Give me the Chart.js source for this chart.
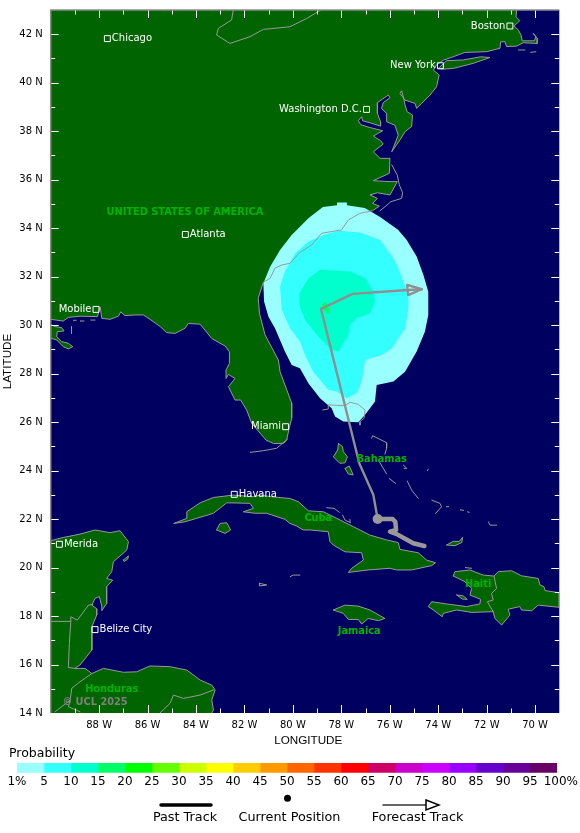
<!DOCTYPE html>
<html>
<head>
<meta charset="utf-8">
<title>Strike probability</title>
<script src="https://cdn.jsdelivr.net/npm/chart.js@4"></script>
<style>
  html, body { margin: 0; padding: 0; background: #fff; overflow: hidden; }
  #page { position: relative; width: 580px; height: 833px; font-family: "DejaVu Sans", sans-serif; color: #000; }
  canvas { position: absolute; left: 0; }
  .key { position: absolute; font-size: 12.8px; line-height: 14px; white-space: nowrap; }
  .centre { transform: translateX(-50%); }
</style>
</head>
<body>
<div id="page">
  <canvas id="mapChart" width="580" height="748" style="top:0"></canvas>
  <canvas id="barChart" width="580" height="32" style="top:760px"></canvas>
  <div class="key" style="left:9px;top:746px;font-size:12.5px">Probability</div>
  <svg width="580" height="30" style="position:absolute;left:0;top:790px">
    <line x1="161" y1="15" x2="211" y2="15" stroke="#000" stroke-width="3.5" stroke-linecap="round"/>
    <circle cx="287.5" cy="8.3" r="3.5" fill="#000"/>
    <line x1="382.5" y1="15" x2="426" y2="15" stroke="#333" stroke-width="1.5"/>
    <polygon points="426,10 439,15 426,20" fill="none" stroke="#000" stroke-width="1.5"/>
  </svg>
  <div class="key centre" style="left:185px;top:810px">Past Track</div>
  <div class="key centre" style="left:289.5px;top:810px">Current Position</div>
  <div class="key centre" style="left:417.5px;top:810px">Forecast Track</div>
</div>
<script>
// axes
const lonRange = [-90, -69];
const latRange = [14, 43];
const lonMajor = [-88, -86, -84, -82, -80, -78, -76, -74, -72, -70];
const lonMinor = [-89, -87, -85, -83, -81, -79, -77, -75, -73, -71];
const latMajor = [14, 16, 18, 20, 22, 24, 26, 28, 30, 32, 34, 36, 38, 40, 42];
const latMinor = [15, 17, 19, 21, 23, 25, 27, 29, 31, 33, 35, 37, 39, 41];

// probability key
const probLabels = ['1%', '5', '10', '15', '20', '25', '30', '35', '40', '45', '50', '55', '60', '65', '70', '75', '80', '85', '90', '95', '100%'];
const probColors = ['#99ffff', '#33ffff', '#00ffcc', '#00ff66', '#00ff00', '#66ff00', '#ccff00', '#ffff00', '#ffcc00', '#ff9900',
  '#ff6600', '#ff3300', '#ff0000', '#cc0066', '#cc00cc', '#cc00ff', '#9900ff', '#6600cc', '#660099', '#660066'];

// probability areas, lon/lat
const prob1 = [[-78.76,34.87],[-78.18,34.95],[-78.18,35.06],[-77.77,35.06],[-77.77,34.95],[-77.03,34.83],[-76.40,34.46],[-75.66,33.93],[-75.30,33.51],[-74.89,32.83],[-74.61,32.07],[-74.41,31.38],[-74.41,30.42],[-74.55,29.73],[-74.89,28.91],[-75.37,28.08],[-75.85,27.67],[-76.54,27.53],[-76.61,26.85],[-77.02,26.30],[-77.30,25.99],[-77.92,26.02],[-78.26,26.23],[-78.40,26.57],[-78.88,26.98],[-79.36,27.60],[-79.71,28.22],[-80.05,28.36],[-80.33,28.91],[-80.74,29.87],[-81.01,30.35],[-81.19,30.97],[-81.22,31.73],[-80.94,32.41],[-80.53,33.10],[-80.05,33.72],[-79.36,34.41]];
const prob5 = [[-78.12,33.89],[-77.23,33.82],[-76.40,33.51],[-75.85,32.76],[-75.65,32.35],[-75.23,31.25],[-75.23,30.70],[-75.37,29.87],[-75.92,29.04],[-76.33,28.77],[-77.02,28.56],[-77.16,27.67],[-77.37,27.19],[-77.78,26.98],[-78.19,27.26],[-78.54,27.33],[-79.16,28.08],[-79.50,28.77],[-79.71,29.32],[-80.12,29.87],[-80.46,30.63],[-80.53,31.59],[-80.33,32.21],[-79.91,32.96],[-79.36,33.45],[-78.74,33.72]];
const prob10 = [[-78.88,32.28],[-77.64,32.21],[-77.02,31.93],[-76.68,31.38],[-76.61,30.97],[-76.82,30.49],[-77.37,30.28],[-77.64,30.01],[-77.71,29.60],[-78.12,28.91],[-78.40,28.98],[-78.95,29.53],[-79.50,30.21],[-79.73,30.83],[-79.73,31.31],[-79.36,31.93]];
const prob15 = [[-78.81,30.83],[-78.67,30.97],[-78.54,30.76],[-78.47,30.56],[-78.58,30.45],[-78.72,30.63]];

// coastlines, lon/lat
const usCoast = [[-70.76,43],[-70.79,42.72],[-70.63,42.56],[-70.87,42.34],[-70.69,42.17],[-70.58,41.97],[-70.53,41.73],[-70.03,41.73],[-69.97,41.90],[-70.08,42.04],[-69.91,41.83],[-69.91,41.62],[-70.49,41.65],[-70.76,41.51],[-71.18,41.49],[-71.24,41.69],[-71.42,41.69],[-71.45,41.42],[-72.00,41.28],[-72.90,41.25],[-73.38,41.07],[-73.79,40.93],[-74.07,40.73],[-74.20,40.52],[-73.96,40.32],[-74.07,39.83],[-74.34,39.49],[-74.68,39.15],[-74.89,38.94],[-74.96,39.15],[-75.37,39.28],[-75.58,39.56],[-75.51,39.67],[-75.44,39.42],[-75.37,39.08],[-75.28,38.80],[-75.06,38.67],[-75.10,38.19],[-75.37,37.98],[-75.58,37.64],[-75.92,37.15],[-75.65,37.84],[-75.79,38.25],[-76.13,38.39],[-76.13,38.73],[-76.34,38.94],[-76.27,39.18],[-75.99,39.38],[-76.06,39.49],[-76.51,39.18],[-76.51,38.73],[-76.38,38.39],[-76.38,38.21],[-76.82,38.35],[-77.12,38.43],[-77.16,38.60],[-77.30,38.43],[-77.20,38.27],[-76.85,38.16],[-76.29,38.02],[-76.68,37.80],[-76.38,37.61],[-76.27,37.47],[-76.68,37.15],[-76.40,36.88],[-75.99,36.88],[-76.02,36.26],[-76.68,35.96],[-75.99,35.92],[-75.69,35.92],[-75.99,35.37],[-76.51,35.46],[-76.82,35.37],[-76.51,35.23],[-76.71,35.02],[-76.43,34.91],[-76.71,34.72],[-77.23,34.61],[-77.71,34.34],[-77.99,33.93],[-78.81,33.79],[-79.22,33.31],[-79.71,33.00],[-80.12,32.55],[-80.46,32.48],[-80.74,32.35],[-80.94,31.93],[-81.22,31.77],[-81.43,31.11],[-81.38,30.49],[-81.15,29.60],[-80.60,28.56],[-80.53,28.08],[-80.05,26.78],[-80.05,26.16],[-80.15,25.75],[-80.26,25.26],[-80.39,25.12],[-80.81,25.12],[-81.11,25.26],[-81.70,25.95],[-81.91,26.50],[-82.16,26.91],[-82.39,26.91],[-82.66,27.46],[-82.39,27.80],[-82.66,27.97],[-82.76,27.80],[-82.76,28.15],[-82.62,28.42],[-82.62,28.90],[-82.80,29.14],[-83.35,29.45],[-83.83,30.04],[-84.32,30.07],[-84.45,29.87],[-84.86,29.66],[-85.21,29.69],[-85.48,29.94],[-85.90,30.24],[-86.17,30.42],[-86.52,30.42],[-86.93,30.39],[-87.11,30.55],[-87.20,30.37],[-87.55,30.24],[-87.89,30.28],[-87.96,30.76],[-88.07,30.35],[-88.79,30.37],[-89.27,30.32],[-89.48,30.17],[-90,30.24]];
const usCorners = [[-90,43]];
const louisiana = [[-90,30.03],[-89.82,29.94],[-89.55,29.90],[-89.45,29.76],[-89.73,29.73],[-89.75,29.52],[-89.55,29.32],[-89.27,29.25],[-89.09,29.11],[-89.27,29.02],[-89.48,29.11],[-89.75,29.39],[-90,29.46]];
const longIsland = [[-74.00,40.59],[-73.65,40.91],[-72.96,40.94],[-72.25,41.07],[-71.86,41.04],[-72.55,40.80],[-73.38,40.59],[-73.79,40.56]];
const cuba = [[-84.91,21.82],[-84.38,22.03],[-84.38,22.30],[-83.83,22.67],[-83.28,22.89],[-82.46,22.99],[-81.63,22.92],[-81.36,22.99],[-80.88,22.92],[-80.12,22.85],[-79.78,22.72],[-79.36,22.34],[-78.74,22.30],[-78.19,22.03],[-77.51,21.69],[-76.82,21.34],[-76.13,21.14],[-75.65,21.03],[-75.58,20.75],[-74.82,20.61],[-74.48,20.31],[-74.11,20.20],[-74.27,20.08],[-75.10,19.90],[-75.72,19.90],[-75.99,19.97],[-76.89,19.90],[-77.71,19.80],[-77.57,19.97],[-77.09,20.31],[-77.16,20.61],[-77.85,20.65],[-78.33,20.93],[-78.47,21.07],[-78.54,21.48],[-79.29,21.55],[-79.57,21.55],[-79.84,21.71],[-80.12,21.82],[-80.33,21.99],[-81.08,22.24],[-81.56,22.24],[-82.05,22.30],[-81.63,22.44],[-81.77,22.65],[-82.73,22.67],[-83.28,22.24],[-83.97,22.03],[-84.45,21.89]];
const isleOfYouth = [[-83.15,21.55],[-83.01,21.82],[-82.73,21.85],[-82.57,21.55],[-82.80,21.41]];
const yucatanCoast = [[-90,21.11],[-89.48,21.24],[-88.79,21.38],[-88.17,21.55],[-87.55,21.44],[-87.14,21.52],[-86.79,21.07],[-86.86,20.72],[-87.41,20.24],[-87.48,19.83],[-87.69,19.55],[-87.44,19.48],[-87.69,19.21],[-87.69,18.52],[-87.89,18.22],[-87.89,18.41],[-87.99,18.80],[-88.17,18.73],[-88.30,18.45],[-88.10,18.30],[-88.10,18.04],[-88.30,17.56],[-88.30,16.60],[-88.79,15.98],[-89.00,15.84],[-88.58,15.84],[-88.30,15.63],[-87.82,15.84],[-87.00,15.68],[-86.45,15.70],[-85.90,15.94],[-85.07,15.91],[-84.38,15.77],[-83.83,15.36],[-83.35,15.15],[-83.21,14.95],[-83.35,14.54],[-83.28,14.12],[-83.35,14]];
const yucatanCorners = [[-90,14]];
const cozumel = [[-87.00,20.31],[-86.79,20.48],[-86.82,20.35],[-86.97,20.25]];
const jamaica = [[-78.33,18.25],[-77.85,18.45],[-77.30,18.41],[-76.82,18.25],[-76.20,17.90],[-76.47,17.81],[-76.89,17.90],[-77.16,17.67],[-77.30,17.86],[-77.71,17.86],[-77.92,18.11]];
const hispaniola = [[-73.38,19.65],[-73.31,19.83],[-72.69,19.90],[-72.14,19.69],[-71.70,19.65],[-71.52,19.83],[-70.97,19.87],[-70.56,19.66],[-69.87,19.55],[-69.80,19.28],[-69.63,19.21],[-69.59,19.05],[-69,18.96],[-69,18.36],[-69.87,18.45],[-70.14,18.22],[-70.56,18.25],[-70.63,18.39],[-71.11,18.28],[-71.04,18.04],[-71.38,17.63],[-71.66,17.90],[-71.73,18.18],[-72.62,18.15],[-73.24,18.25],[-73.79,18.11],[-73.83,17.97],[-74.20,18.25],[-74.41,18.39],[-74.27,18.59],[-73.65,18.50],[-72.83,18.39],[-72.28,18.50],[-72.25,18.69],[-72.69,18.87],[-72.62,19.14],[-72.90,19.42]];
const gonave = [[-73.24,18.87],[-72.97,18.83],[-72.80,18.69],[-73.00,18.70]];
const andros = [[-78.12,25.12],[-77.95,24.99],[-77.92,24.78],[-77.75,24.57],[-77.85,24.32],[-78.06,24.30],[-78.33,24.57],[-78.15,24.85]];
const southAndros = [[-77.85,24.09],[-77.67,24.19],[-77.51,23.82],[-77.71,23.86]];
const inagua = [[-73.65,20.93],[-73.38,21.08],[-73.13,21.08],[-72.99,21.25],[-73.03,21.03],[-73.31,20.90]];
const landShapes = [[...usCoast, ...usCorners], louisiana, longIsland, cuba, isleOfYouth, [...yucatanCoast, ...yucatanCorners], cozumel, jamaica, hispaniola, gonave, andros, southAndros, inagua];

// grey-only outlines: lakes, borders, small islets
const lakeShore = [[-82.46,43],[-82.53,42.59],[-83.08,42.24],[-83.15,41.97],[-82.60,41.62],[-81.77,41.90],[-81.22,42.20],[-80.12,42.31],[-79.43,42.65],[-78.85,43]];
const outerBanks = [[-75.92,36.62],[-75.69,36.19],[-75.61,35.80],[-75.47,35.46],[-75.51,35.23],[-75.96,35.09],[-76.20,34.88],[-76.40,34.72]];
const borders = [
  [[-90,17.78],[-89.17,17.78],[-89.23,16.87],[-89.27,15.88],[-88.95,15.83]],
  [[-89.17,17.78],[-89.17,17.97],[-88.90,17.83],[-88.44,18.45],[-88.26,18.48]],
  [[-88.30,15.63],[-88.79,15.29],[-89.13,15.02],[-89.20,14.53],[-89.82,14.05]],
  [[-89.20,14.53],[-89.27,14.26],[-88.79,14.05]],
  [[-85.49,14],[-85.07,14.40],[-84.93,14.74],[-84.52,14.60],[-83.83,14.74],[-83.28,14.95]],
  [[-71.70,19.65],[-71.59,19.14],[-71.80,18.93],[-71.73,18.66],[-71.97,18.59],[-71.73,18.18]]
];
const islets = [
  [[-78.77,26.50],[-78.54,26.54],[-78.54,26.71],[-77.85,26.68],[-77.64,26.82],[-77.30,26.73],[-77.02,26.50],[-77.06,26.16],[-77.23,26.02],[-77.23,25.88]],
  [[-76.75,25.33],[-76.71,25.44],[-76.13,25.15],[-76.13,24.92],[-76.20,24.68]],
  [[-75.44,24.23],[-75.30,24.09],[-75.41,24.09]],
  [[-76.47,24.43],[-76.13,23.86]],
  [[-76.03,23.68],[-75.76,23.47]],
  [[-75.28,23.57],[-75.10,23.20],[-74.82,22.85]],
  [[-74.45,23.99],[-74.41,24.06]],
  [[-74.27,22.78],[-73.93,22.65],[-73.86,22.51],[-74.11,22.23]],
  [[-73.68,22.51],[-73.57,22.51]],
  [[-73.10,22.38],[-72.95,22.36]],
  [[-72.80,22.30],[-72.72,22.28]],
  [[-71.93,21.89],[-71.86,21.75],[-71.59,21.75]],
  [[-78.61,22.47],[-78.30,22.44],[-78.08,22.28]],
  [[-77.95,22.17],[-77.85,21.96],[-77.62,21.85],[-77.64,21.99]],
  [[-72.89,20.00],[-72.62,19.97]],
  [[-80.12,19.62],[-79.98,19.69],[-79.71,19.69]],
  [[-81.38,19.35],[-81.08,19.28],[-81.38,19.24],[-81.38,19.35]],
  [[-81.77,24.75],[-81.22,24.82],[-80.67,24.92],[-80.23,25.29]],
  [[-70.69,41.35],[-70.42,41.35]],
  [[-70.19,41.25],[-69.97,41.28]],
  [[-89.14,29.94],[-89.14,29.66]],
  [[-89.07,30.20],[-88.95,30.20]],
  [[-88.79,30.17],[-88.62,30.17]],
  [[-88.35,30.21],[-88.17,30.21]]
];

// storm track
const forecastTrack = [[-76.5,22.0],[-76.68,23.0],[-77.26,24.3],[-78.84,30.67],[-77.53,31.29],[-75.24,31.45],[-74.68,31.48]];
const forecastArrow = [[-75.28,31.66],[-74.68,31.48],[-75.24,31.24],[-75.28,31.66]];
const pastTrack = [[-74.57,20.89],[-75.03,21.0],[-75.71,21.38],[-75.99,21.48],[-75.74,21.55],[-75.77,21.89],[-75.88,22.0],[-76.5,22.0]];
const currentPosition = [[-76.5,22.0]];

// places
const cities = ['Chicago', 'Washington D.C.', 'New York', 'Boston', 'Atlanta', 'Mobile', 'Miami', 'Havana', 'Merida', 'Belize City'];
const cityLon = [-87.66, -76.96, -73.91, -71.04, -84.44, -88.13, -80.30, -82.42, -89.64, -88.17];
const cityLat = [41.82, 38.90, 40.70, 42.34, 33.74, 30.65, 25.81, 23.02, 20.96, 17.44];
const citySide = [1, -1, -1, -1, 1, -1, -1, 1, 1, 1];
const regions = ['UNITED STATES OF AMERICA', 'Bahamas', 'Cuba', 'Haiti', 'Jamaica', 'Honduras'];
const regionLon = [-84.46, -76.33, -78.95, -72.35, -77.26, -87.48];
const regionLat = [34.65, 24.48, 22.03, 19.31, 17.35, 14.98];
const credit = ['© UCL 2025', -88.17, 14.44];

const LAND = '#006400', SEA = '#000060', COAST = '#999999', TRACK = '#8f8f8f';
const xy = (p) => ({x: p[0], y: p[1]});
const closed = (p) => [...p, p[0]];

const datasets = [];
function addFill(points, color, order) {
  datasets.push({data: closed(points).map(xy), showLine: true, pointRadius: 0, borderWidth: 0, backgroundColor: color, fill: 'shape', order: order});
}
function addLine(points, color, width, order) {
  datasets.push({data: points.map(xy), showLine: true, pointRadius: 0, borderColor: color, borderWidth: width, fill: false, borderCapStyle: 'round', borderJoinStyle: 'round', order: order});
}

landShapes.forEach(s => addFill(s, LAND, 100));
addFill(prob1, probColors[0], 90);
addFill(prob5, probColors[1], 89);
addFill(prob10, probColors[2], 88);
addFill(prob15, probColors[3], 87);

addLine(usCoast, COAST, 1, 50);
addLine(yucatanCoast, COAST, 1, 50);
[louisiana, longIsland, cuba, isleOfYouth, cozumel, jamaica, hispaniola, gonave, andros, southAndros, inagua].forEach(s => addLine(closed(s), COAST, 1, 50));
[lakeShore, outerBanks, ...borders, ...islets].forEach(s => addLine(s, COAST, 1, 50));

addLine(forecastTrack, TRACK, 2.4, 20);
addLine(forecastArrow, TRACK, 2.4, 20);
addLine(pastTrack, '#999999', 4.5, 19);
datasets.push({data: currentPosition.map(xy), pointRadius: 5, pointBackgroundColor: '#999999', pointBorderWidth: 0, showLine: false, order: 18});
datasets.push({data: cityLon.map((v, i) => ({x: v, y: cityLat[i]})), pointStyle: 'rect', pointRadius: 4.2, pointBorderColor: '#ffffff', pointBorderWidth: 1, pointBackgroundColor: 'rgba(0,0,0,0)', showLine: false, order: 10});

const seaBackground = {
  id: 'seaBackground',
  beforeDraw(chart) {
    const a = chart.chartArea, ctx = chart.ctx;
    ctx.fillStyle = SEA;
    ctx.fillRect(a.left, a.top, a.width, a.height);
  }
};

// inward ticks on all four sides, and place names
const mapOverlay = {
  id: 'mapOverlay',
  afterDatasetsDraw(chart) {
    const a = chart.chartArea, ctx = chart.ctx, sx = chart.scales.x, sy = chart.scales.y;
    ctx.save();
    ctx.strokeStyle = '#ffffff';
    ctx.lineWidth = 1;
    const tick = (x1, y1, x2, y2) => { ctx.beginPath(); ctx.moveTo(x1, y1); ctx.lineTo(x2, y2); ctx.stroke(); };
    const lonTicks = (vals, len) => vals.forEach(v => {
      const x = Math.round(sx.getPixelForValue(v)) + 0.5;
      tick(x, a.top, x, a.top + len);
      tick(x, a.bottom, x, a.bottom - len);
    });
    const latTicks = (vals, len) => vals.forEach(v => {
      const y = Math.round(sy.getPixelForValue(v)) + 0.5;
      tick(a.left, y, a.left + len, y);
      tick(a.right, y, a.right - len, y);
    });
    lonTicks(lonMajor, 8); lonTicks(lonMinor, 4.5);
    latTicks(latMajor, 8); latTicks(latMinor, 4.5);

    ctx.strokeStyle = '#8c8c8c';
    ctx.lineWidth = 1.5;
    ctx.beginPath();
    ctx.moveTo(a.right, a.top); ctx.lineTo(a.left, a.top); ctx.lineTo(a.left, a.bottom);
    ctx.stroke();

    ctx.textBaseline = 'middle';
    ctx.font = '10px "DejaVu Sans"';
    ctx.fillStyle = '#ffffff';
    cities.forEach((name, i) => {
      const x = sx.getPixelForValue(cityLon[i]), y = sy.getPixelForValue(cityLat[i]);
      ctx.textAlign = citySide[i] > 0 ? 'left' : 'right';
      ctx.fillText(name, x + citySide[i] * 4.5, y);
    });
    ctx.textAlign = 'center';
    ctx.font = 'bold 9.8px "DejaVu Sans"';
    ctx.fillStyle = '#00b400';
    regions.forEach((name, i) => {
      ctx.fillText(name, sx.getPixelForValue(regionLon[i]), sy.getPixelForValue(regionLat[i]));
    });
    ctx.fillStyle = '#7f7f7f';
    ctx.fillText(credit[0], sx.getPixelForValue(credit[1]), sy.getPixelForValue(credit[2]));
    ctx.restore();
  }
};

new Chart(document.getElementById('mapChart'), {
  type: 'scatter',
  data: {datasets: datasets},
  plugins: [seaBackground, mapOverlay],
  options: {
    responsive: false,
    devicePixelRatio: 1,
    animation: false,
    events: [],
    layout: {padding: {left: 0, right: 20.7, top: 10, bottom: 0}},
    plugins: {legend: {display: false}, tooltip: {enabled: false}},
    scales: {
      x: {
        type: 'linear',
        min: lonRange[0],
        max: lonRange[1],
        afterBuildTicks: (s) => { s.ticks = lonMajor.map(v => ({value: v})); },
        afterFit: (s) => { s.height = 35; s.paddingLeft = 0; s.paddingRight = 0; },
        grid: {display: false, drawTicks: false},
        border: {display: false},
        ticks: {autoSkip: false, maxRotation: 0, padding: 6, color: '#000', font: {family: 'DejaVu Sans', size: 10}, callback: (v) => Math.abs(v) + ' W'},
        title: {display: true, text: '  LONGITUDE', color: '#000', font: {family: 'Liberation Sans', size: 11.7}, padding: {top: 0, bottom: 0}}
      },
      y: {
        type: 'linear',
        min: latRange[0],
        max: latRange[1],
        afterBuildTicks: (s) => { s.ticks = latMajor.map(v => ({value: v})); },
        afterFit: (s) => { s.width = 50.7; s.paddingTop = 0; s.paddingBottom = 0; },
        grid: {display: false, drawTicks: false},
        border: {display: false},
        ticks: {autoSkip: false, padding: 8, color: '#000', font: {family: 'DejaVu Sans', size: 10}, callback: (v) => v + ' N'},
        title: {display: true, text: 'LATITUDE', color: '#000', font: {family: 'Liberation Sans', size: 11.7}, padding: {top: 1, bottom: 0}}
      }
    }
  }
});

// colour key: one stacked bar per probability band
new Chart(document.getElementById('barChart'), {
  type: 'bar',
  data: {
    labels: ['Probability'],
    datasets: probColors.map((c) => ({data: [1], backgroundColor: c, borderWidth: 0, barPercentage: 1, categoryPercentage: 1}))
  },
  options: {
    indexAxis: 'y',
    responsive: false,
    devicePixelRatio: 1,
    animation: false,
    events: [],
    layout: {padding: {left: 17, right: 22.3, top: 3, bottom: 0}},
    plugins: {legend: {display: false}, tooltip: {enabled: false}},
    scales: {
      x: {
        stacked: true,
        min: 0,
        max: probColors.length,
        afterBuildTicks: (s) => { s.ticks = probLabels.map((l, i) => ({value: i})); },
        afterFit: (s) => { s.height = 19.3; },
        grid: {display: false, drawTicks: false},
        border: {display: false},
        ticks: {autoSkip: false, maxRotation: 0, padding: 2, color: '#000', font: {family: 'DejaVu Sans', size: 12}, callback: (v) => (v === 20 ? '  ' : '') + probLabels[v]}
      },
      y: {stacked: true, display: false}
    }
  }
});
</script>
</body>
</html>
